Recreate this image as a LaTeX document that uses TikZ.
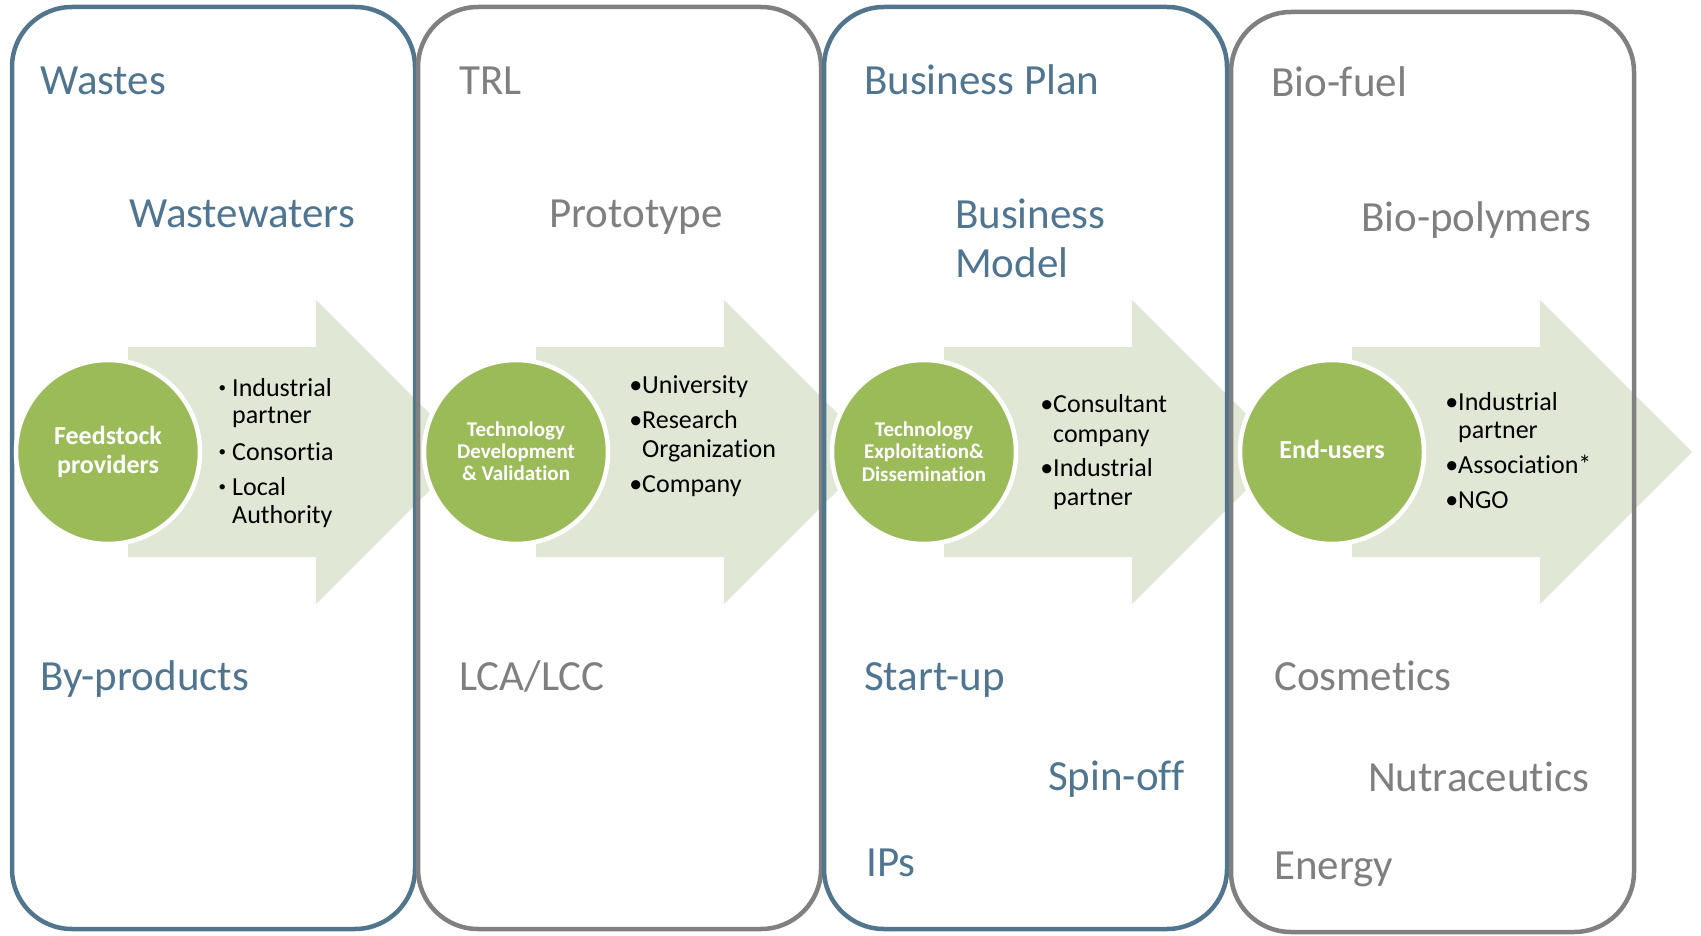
\documentclass[tikz,border=0pt]{standalone}
\usepackage{fontspec}
\setmainfont{Carlito}[Ligatures=NoCommon]
\definecolor{lineblue}{HTML}{50758D}
\definecolor{linegray}{HTML}{808080}
\definecolor{textblue}{HTML}{4F7590}
\definecolor{textgray}{HTML}{7F7F7F}
\definecolor{discgreen}{HTML}{9BBB59}
\definecolor{flowgreen}{HTML}{E0E8D5}
\newcommand{\smallbul}{\llap{\raisebox{4pt}{\fontsize{15}{15}\selectfont•}\hspace{6pt}}}
\newcommand{\bigbul}{\llap{•}}
\tikzset{
  head/.style={anchor=base west, inner sep=0pt, font=\fontsize{43}{50}\selectfont},
  hblue/.style={head, text=textblue},
  hgray/.style={head, text=textgray},
  item/.style={anchor=base west, inner sep=0pt, text=black, font=\fontsize{26}{30}\selectfont},
  ctext/.style={anchor=base, inner sep=0pt, text=white, font=\bfseries\fontsize{21}{24}\selectfont},
  panel/.style={rectangle, rounded corners=60pt, line width=4.5pt, minimum width=403pt, minimum height=922pt, inner sep=0pt, draw},
  disc/.style={circle, fill=discgreen, draw=white, line width=4.5pt, minimum size=184pt, inner sep=0pt},
  flow/.style={fill=flowgreen}
}
\begin{document}
\begin{tikzpicture}[x=1pt,y=-1pt]
\useasboundingbox (0,0) rectangle (1701,936);
% flow arrows
\foreach \L in {128,536,944,1352}{
  \fill[flow] (\L,347) -- (\L+188,347) -- (\L+188,300) -- (\L+340,452) -- (\L+188,604) -- (\L+188,557) -- (\L,557) -- cycle;
}
% panels
\node[panel, draw=lineblue] (p1) at (213.5,468) {};
\node[panel, draw=linegray] (p2) at (619.5,468) {};
\node[panel, draw=lineblue] (p3) at (1025.5,468) {};
\node[panel, draw=linegray, minimum height=920pt] (p4) at (1432.5,472) {};
% discs
\node[disc] (c1) at (108,452) {};
\node[disc] (c2) at (516,452) {};
\node[disc] (c3) at (924,452) {};
\node[disc] (c4) at (1332,452) {};
% disc texts
\node[ctext, font=\bfseries\fontsize{26}{28}\selectfont] (c1a) at (108,444) {Feedstock};
\node[ctext, font=\bfseries\fontsize{26}{28}\selectfont] (c1b) at (108,473) {providers};
\node[ctext] (c2a) at (516,436) {Technology};
\node[ctext] (c2b) at (516,458) {Development};
\node[ctext] (c2c) at (516,480) {\& Validation};
\node[ctext] (c3a) at (924,436) {Technology};
\node[ctext] (c3b) at (924,458) {Exploitation\&};
\node[ctext] (c3c) at (924,481) {Dissemination};
\node[ctext, font=\bfseries\fontsize{26}{28}\selectfont] (c4a) at (1332,458) {End-users};
% bullet lists
\node[item] (i1a) at (232,396) {\smallbul Industrial};
\node[item] (i1b) at (232,423) {partner};
\node[item] (i1c) at (232,460) {\smallbul Consortia};
\node[item] (i1d) at (232,495) {\smallbul Local};
\node[item] (i1e) at (232,523) {Authority};
\node[item] (i2a) at (642,393) {\bigbul University};
\node[item] (i2b) at (642,428) {\bigbul Research};
\node[item] (i2c) at (642,457) {Organization};
\node[item] (i2d) at (642,492) {\bigbul Company};
\node[item] (i3a) at (1053,412) {\bigbul Consultant};
\node[item] (i3b) at (1053,442) {company};
\node[item] (i3c) at (1053,476) {\bigbul Industrial};
\node[item] (i3d) at (1053,505) {partner};
\node[item] (i4a) at (1458,410) {\bigbul Industrial};
\node[item] (i4b) at (1458,438) {partner};
\node[item] (i4c) at (1458,473) {\bigbul Association*};
\node[item] (i4d) at (1458,508) {\bigbul NGO};
% headings
\node[hblue] (h1a) at (40,95) {Wastes};
\node[hblue] (h1b) at (129,228) {Wastewaters};
\node[hblue] (h1c) at (40,690) {By-products};
\node[hgray] (h2a) at (459,95) {TRL};
\node[hgray] (h2b) at (549,228) {Prototype};
\node[hgray] (h2c) at (459,690) {LCA/LCC};
\node[hblue] (h3a) at (864,95) {Business Plan};
\node[hblue] (h3b) at (955,229) {Business};
\node[hblue] (h3c) at (955,277) {Model};
\node[hblue] (h3d) at (864,690) {Start-up};
\node[hblue] (h3e) at (1048,790) {Spin-off};
\node[hblue] (h3f) at (866,876) {IPs};
\node[hgray] (h4a) at (1271,97) {Bio-fuel};
\node[hgray] (h4b) at (1361,232) {Bio-polymers};
\node[hgray] (h4c) at (1274,690) {Cosmetics};
\node[hgray] (h4d) at (1368,791) {Nutraceutics};
\node[hgray] (h4e) at (1274,879) {Energy};
\end{tikzpicture}
\end{document}
